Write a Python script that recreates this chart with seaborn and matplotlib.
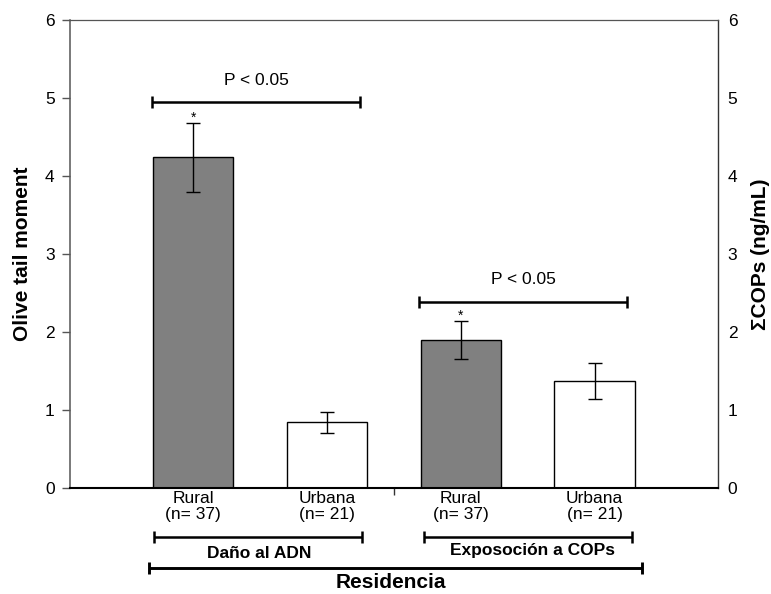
import matplotlib
matplotlib.use("Agg")
import matplotlib.pyplot as plt
import seaborn as sns
import pandas as pd

# ---- data ----
groups = ["Daño al ADN", "Daño al ADN", "Exposoción a COPs", "Exposoción a COPs"]
residence = ["Rural", "Urbana", "Rural", "Urbana"]
n_labels = ["(n= 37)", "(n= 21)", "(n= 37)", "(n= 21)"]
means = [4.24, 0.84, 1.90, 1.37]
errors = [0.44, 0.135, 0.24, 0.235]
sig_values = [4.95, 2.39]
sig_text = "P < 0.05"
yticks = [0, 1, 2, 3, 4, 5, 6]
left_label = "Olive tail moment"
right_label = "ΣCOPs (ng/mL)"
outer_label = "Residencia"

# ---- layout ----
sig_spans = [(-0.31, 1.25), (1.69, 3.245)]
mid_tick = 1.5
colors = {"Rural": "#808080", "Urbana": "white"}

sns.set_theme(style="white")
plt.rcParams['font.family'] = ['Liberation Sans', 'DejaVu Sans']
plt.rcParams['text.color'] = 'black'
plt.rcParams['axes.labelcolor'] = 'black'
plt.rcParams['xtick.color'] = 'black'
plt.rcParams['ytick.color'] = 'black'

fig = plt.figure(figsize=(7.71, 5.94), dpi=100)
ax = fig.add_axes([70 / 771, 1 - 488 / 594, 648 / 771, 468 / 594])

keys = [f"{g} | {r}" for g, r in zip(groups, residence)]
df = pd.DataFrame({"key": keys, "mean": means, "res": residence})
sns.barplot(data=df, x="key", y="mean", hue="res", palette=colors,
            order=keys, width=0.60, dodge=False, edgecolor="black",
            linewidth=1, legend=False, errorbar=None, ax=ax)
ax.errorbar(range(len(means)), means, yerr=errors, fmt="none", ecolor="black",
            elinewidth=1, capsize=5, capthick=1)

ax.set_xlim(-0.92, 3.923)
ax.set_ylim(0, 6)
ax.set_yticks(yticks)
ax.set_yticklabels([str(t) for t in yticks], fontsize=12.5, color="black")
ax.set_xticks(range(len(keys)))
ax.set_xticklabels([f"{r}\n{n}" for r, n in zip(residence, n_labels)],
                   fontsize=12.5, linespacing=1.1, color="black")
ax.tick_params(axis="x", length=0, pad=2)
ax.set_xticks([mid_tick], minor=True)
ax.tick_params(axis="x", which="minor", length=5, width=1, direction="out",
               color="#333333", bottom=True)
ax.tick_params(axis="y", length=6, width=1, direction="out", color="#555555",
               left=True, pad=5)
ax.set_xlabel("")
ax.set_ylabel(left_label, fontsize=15, fontweight="bold", labelpad=9,
              color="black")
ax.spines["left"].set_color("#555555")
ax.spines["left"].set_linewidth(1.1)
ax.spines["top"].set_color("#555555")
ax.spines["top"].set_linewidth(0.9)
ax.spines["bottom"].set_color("black")
ax.spines["bottom"].set_linewidth(1.5)
ax.spines["right"].set_color("#333333")
ax.spines["right"].set_linewidth(1)

ax2 = ax.twinx()
ax2.set_ylim(0, 6)
ax2.set_yticks(yticks)
ax2.set_yticklabels([str(t) for t in yticks], fontsize=12.5, color="black")
ax2.tick_params(axis="y", length=0, pad=7)
ax2.set_ylabel(right_label, fontsize=15, fontweight="bold", labelpad=10,
               color="black")
for s in ["top", "left", "bottom", "right"]:
    ax2.spines[s].set_visible(False)

# significance brackets
for (x1, x2), yv in zip(sig_spans, sig_values):
    ax.plot([x1, x2], [yv, yv], color="black", lw=1.8, solid_capstyle="butt")
    ax.plot([x1, x2], [yv, yv], ls="none", marker="|", markersize=8,
            mew=1.8, color="black")
    ax.text((x1 + x2) / 2, yv + 0.28, sig_text, ha="center", va="center",
            fontsize=12.5, color="black")

# asterisks above Rural bars
for i, (m, e, r) in enumerate(zip(means, errors, residence)):
    if r == "Rural":
        ax.text(i, m + e - 0.02, "*", ha="center", va="bottom", fontsize=10,
                color="black")

# bottom group brackets (figure pixel coordinates)
H = 594.0
def fx(px):
    return px / 771.0
def fy(py):
    return 1 - py / H

def bracket(x1, x2, y, lw=1.8, ms=8):
    fig.add_artist(plt.Line2D([fx(x1), fx(x2)], [fy(y), fy(y)],
                              color="black", lw=lw, solid_capstyle="butt",
                              transform=fig.transFigure))
    fig.add_artist(plt.Line2D([fx(x1), fx(x2)], [fy(y), fy(y)], ls="none",
                              marker="|", markersize=ms, mew=lw,
                              color="black", transform=fig.transFigure))

bracket(154, 362, 536.5)
bracket(424, 632, 536.5)
bracket(149, 642, 567.5, lw=2.1, ms=9)
fig.text(fx(259), fy(553), groups[0], ha="center", va="center",
         fontsize=12.5, fontweight="bold", color="black")
fig.text(fx(532), fy(551), groups[2], ha="center", va="center",
         fontsize=12.5, fontweight="bold", color="black")
fig.text(fx(391), fy(583), outer_label, ha="center", va="center",
         fontsize=15, fontweight="bold", color="black")

fig.savefig("out.png", dpi=100)
